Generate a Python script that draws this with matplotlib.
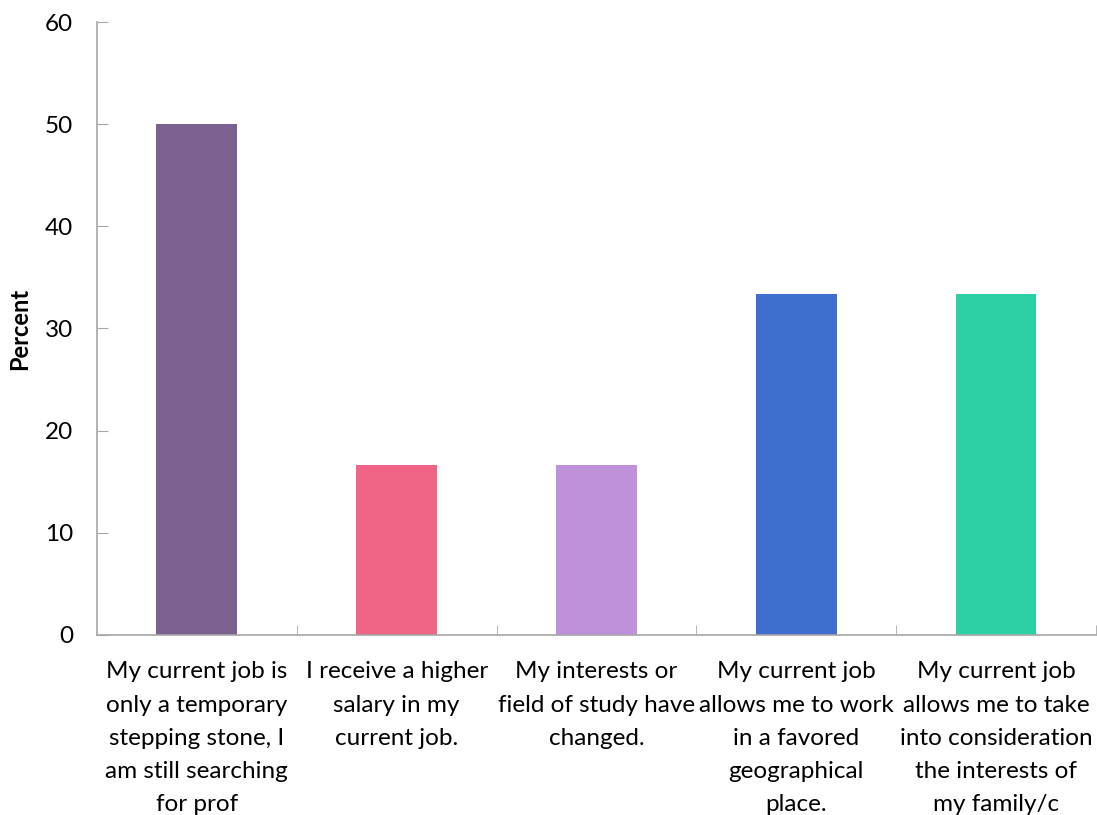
import matplotlib.pyplot as plt
import numpy as np

categories = [
    "My current job is\nonly a temporary\nstepping stone, I\nam still searching\nfor prof",
    "I receive a higher\nsalary in my\ncurrent job.",
    "My interests or\nfield of study have\nchanged.",
    "My current job\nallows me to work\nin a favored\ngeographical\nplace.",
    "My current job\nallows me to take\ninto consideration\nthe interests of\nmy family/c",
]
percent = [50.0, 16.67, 16.67, 33.33, 33.33]
colors = ["#7B618F", "#F06486", "#BF91DA", "#3F6ECE", "#2BD0A5"]
y_ticks = [0, 10, 20, 30, 40, 50, 60]

plt.rcParams["font.family"] = ["Lato", "DejaVu Sans"]

fig = plt.figure(figsize=(10.97, 8.15), dpi=100)
ax = fig.add_axes([0.0884, 0.2209, 0.9106, 0.7521])

x = np.arange(len(categories))
ax.bar(x, percent, width=0.405, color=colors)

ax.set_xlim(-0.5, len(categories) - 0.5)
ax.set_ylim(0, 60)
ax.set_yticks(y_ticks)
ax.set_yticklabels([str(t) for t in y_ticks], fontsize=17.5)

ax.set_xticks(x)
ax.set_xticklabels(categories, fontsize=17.5, linespacing=1.72, va="top")
ax.set_xticks(np.arange(len(categories)) + 0.5, minor=True)
ax.tick_params(axis="x", which="major", length=0, pad=19)
ax.tick_params(axis="x", which="minor", direction="in", length=7, color="#A6A6A6")
ax.tick_params(axis="y", direction="in", length=8, color="#A6A6A6", pad=17)

for side in ["top", "right"]:
    ax.spines[side].set_visible(False)
for side in ["left", "bottom"]:
    ax.spines[side].set_color("#A6A6A6")
    ax.spines[side].set_linewidth(1.2)

ax.set_ylabel("Percent", fontsize=17, fontweight="bold")
ax.yaxis.set_label_coords(-0.066, 0.5)

fig.savefig("out.png", dpi=100)
